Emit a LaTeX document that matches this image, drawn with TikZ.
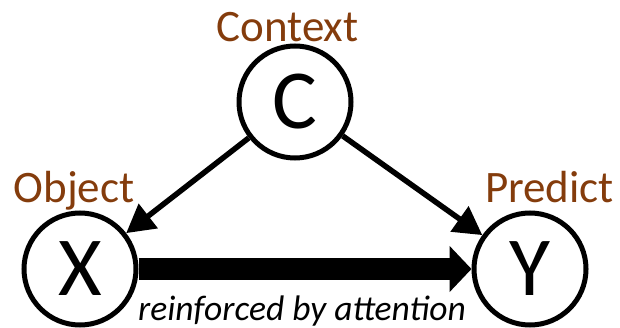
\documentclass[tikz,border=0pt]{standalone}
\usepackage{fontspec}
\setmainfont{Carlito}
\usetikzlibrary{arrows.meta}
\definecolor{labelbrown}{HTML}{843C0C}
\tikzset{
  var/.style={circle, draw, line width=5pt, minimum size=112pt, inner sep=0pt, font=\fontsize{84}{84}\selectfont},
  lbl/.style={anchor=base, inner sep=0pt, text=labelbrown, font=\fontsize{45}{45}\selectfont},
  thinarrow/.style={line width=5.5pt, -{Triangle[length=28pt,width=30pt]}},
  thickarrow/.style={line width=22pt, -{Triangle[length=22pt,width=45pt]}}
}
\begin{document}
\begin{tikzpicture}[x=1pt, y=-1pt]
\useasboundingbox (0,0) rectangle (620,328);
\node[var] (C) at (295,102) {C};
\node[var] (X) at (80,269) {X};
\node[var] (Y) at (530,269) {Y};
\node[lbl] (lc) at (287.5,42) {Context};
\node[lbl] (lx) at (74,203) {Object};
\node[lbl] (ly) at (549.5,203) {Predict};
\draw[thinarrow] (C) -- (X);
\draw[thinarrow] (C) -- (Y);
\draw[thickarrow] (X) -- (Y);
\node[anchor=base, inner sep=0pt, font=\itshape\fontsize{35.5}{35.5}\selectfont] (att) at (302,320) {reinforced by attention};
\end{tikzpicture}
\end{document}
